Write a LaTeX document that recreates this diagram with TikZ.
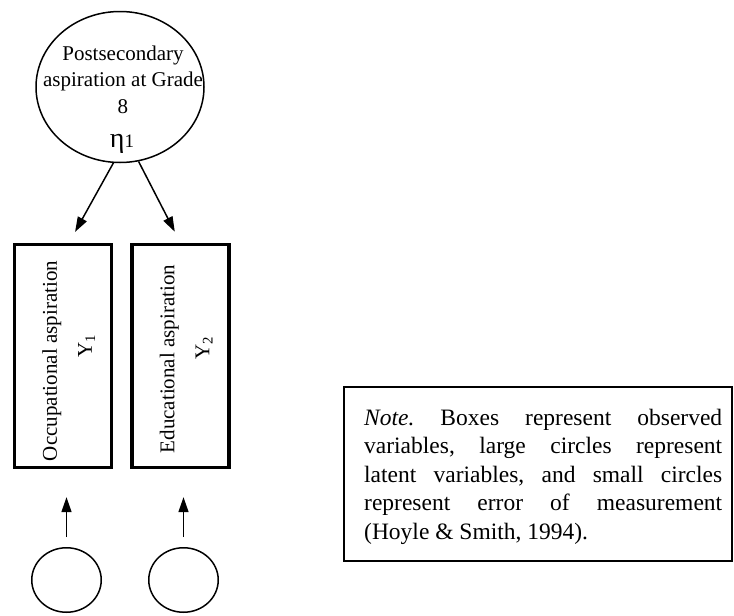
\documentclass[tikz,border=0pt]{standalone}
\usepackage{fontspec}
\setmainfont{Liberation Serif}
\usetikzlibrary{arrows.meta,shapes.geometric}
\begin{document}
\begin{tikzpicture}[x=1pt,y=-1pt,
  arr/.style={line width=1.5pt,-{Triangle[length=15pt,width=10pt]}},
  latent/.style={draw,ellipse,line width=1.5pt,inner sep=0pt},
  obsbox/.style={draw,rectangle,line width=3.3pt,minimum width=223pt,minimum height=97pt,rotate=90,align=center,inner sep=0pt,font=\fontsize{21}{35}\selectfont},
  errc/.style={draw,ellipse,line width=1.5pt,inner sep=0pt,minimum width=69.5pt,minimum height=64.5pt},
  ]
\useasboundingbox (0,0) rectangle (734,616);
% latent variable
\node[latent,minimum width=168pt,minimum height=151pt] (eta) at (120,87) {};
\node[align=center,anchor=north,inner sep=0pt,font=\fontsize{21}{26.5}\selectfont] (etatext) at (123,45.5) {Postsecondary\\aspiration at Grade\\8};
\node[anchor=base,inner sep=0pt] (etasym) at (122,147) {{\fontsize{28}{28}\selectfont η}{\fontsize{19}{19}\selectfont 1}};
% observed variables
\node[obsbox] (box1) at (63,356) {\rule{0pt}{26pt}Occupational aspiration\hspace*{10pt}\\ \hspace*{20pt}Y\textsubscript{1}};
\node[obsbox] (box2) at (180.5,356) {\rule{0pt}{26pt}Educational aspiration\hspace*{6pt}\\ \hspace*{16pt}Y\textsubscript{2}};
% errors
\node[errc] (e1) at (66.5,580) {};
\node[errc] (e2) at (183.5,580) {};
% arrows
\draw[arr,shorten >=12.5pt] (eta.-95.5) -- ([xshift=6pt]box1.east);
\draw[arr,shorten >=12.5pt] (eta.-76) -- (box2.east);
\draw[arr,shorten <=10pt,shorten >=28pt] (e1.north) -- (e1.north |- box1.west);
\draw[arr,shorten <=10pt,shorten >=28pt] (e2.north) -- (e2.north |- box2.west);
% note
\node[draw,line width=1.8pt,minimum width=388pt,minimum height=174pt,inner sep=0pt] (note) at (538,474) {};
\node[anchor=north west,text width=358pt,align=justify,inner sep=0pt,font=\fontsize{23.5}{28.5}\selectfont] (notetext) at (364,408.5) {\frenchspacing\tolerance=10000\hyphenpenalty=10000 \textit{Note.} Boxes represent observed\linebreak variables, large circles represent\linebreak latent variables, and small circles\linebreak represent error of measurement\linebreak (Hoyle \& Smith, 1994).};
\end{tikzpicture}
\end{document}
